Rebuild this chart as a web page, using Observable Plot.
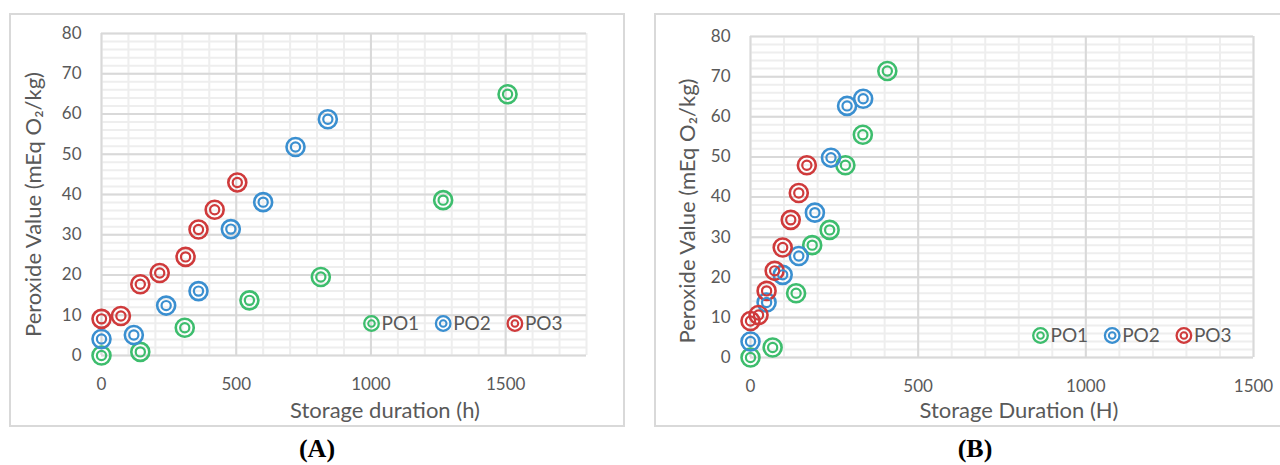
<!DOCTYPE html>
<html>
<head>
<meta charset="utf-8">
<script src="https://cdn.jsdelivr.net/npm/d3@7"></script>
<script src="https://cdn.jsdelivr.net/npm/@observablehq/plot@0.6"></script>
<style>
  html, body { margin: 0; padding: 0; background: #fff; overflow: hidden; }
  #page { position: relative; width: 1280px; height: 465px; overflow: hidden; }
  .box { position: absolute; border: 2px solid #d9d9d9; box-sizing: border-box; }
  .panel { position: absolute; top: 0; }
  .tag { position: absolute; font-family: "Liberation Serif", "DejaVu Serif", serif; font-weight: bold;
         font-size: 26px; line-height: 24px; color: #000; transform: translateX(-50%); top: 437px; }
</style>
</head>
<body>
<div id="page">
  <div class="box" style="left:9px; top:13px; width:616px; height:414px;"></div>
  <div class="box" style="left:654px; top:13px; width:660px; height:414px;"></div>
  <div id="panelA" class="panel" style="left:0px;"></div>
  <div id="panelB" class="panel" style="left:640px;"></div>
  <div class="tag" style="left:317px;">(A)</div>
  <div class="tag" style="left:975px;">(B)</div>
</div>
<script>
// Series names and colours
const seriesNames = ["PO1", "PO2", "PO3"];
const seriesColors = ["#3dbd6d", "#3a8fd0", "#cf3a3b"];

// Panel A: storage duration (h) vs peroxide value
const aHoursPO1 = [0, 144, 309, 549, 814, 1268, 1507];
const aPvPO1    = [0, 0.9, 6.9, 13.7, 19.5, 38.6, 64.9];
const aHoursPO2 = [0, 120, 240, 360, 480, 600, 720, 840];
const aPvPO2    = [4.1, 5.1, 12.4, 16.0, 31.4, 38.1, 51.8, 58.7];
const aHoursPO3 = [0, 72, 144, 216, 312, 360, 420, 504];
const aPvPO3    = [9.1, 9.8, 17.7, 20.5, 24.5, 31.3, 36.2, 43.0];

// Panel B: storage duration (H) vs peroxide value
const bHoursPO1 = [0, 66, 136, 184, 236, 283, 335, 408];
const bPvPO1    = [0, 2.5, 16.0, 28.0, 31.8, 47.9, 55.5, 71.4];
const bHoursPO2 = [0, 48, 96, 144, 192, 240, 288, 336];
const bPvPO2    = [4.0, 13.7, 20.6, 25.3, 36.1, 49.8, 62.7, 64.5];
const bHoursPO3 = [0, 24, 48, 72, 96, 120, 144, 168];
const bPvPO3    = [9.1, 10.6, 16.6, 21.6, 27.4, 34.3, 41.0, 47.9];

// Axis ticks and titles
const xTicks = [0, 500, 1000, 1500];
const yTicks = [0, 10, 20, 30, 40, 50, 60, 70, 80];
const yTitle = "Peroxide Value (mEq O\u2082/kg)";
const xTitleA = "Storage duration (h)";
const xTitleB = "Storage Duration (H)";

function rows(hoursList, pvList) {
  return seriesNames.flatMap((name, i) =>
    hoursList[i].map((h, j) => ({series: name, hours: h, pv: pvList[i][j]})));
}

const dataA = rows([aHoursPO1, aHoursPO2, aHoursPO3], [aPvPO1, aPvPO2, aPvPO3]);
const dataB = rows([bHoursPO1, bHoursPO2, bHoursPO3], [bPvPO1, bPvPO2, bPvPO3]);

const FONT = "Lato, 'Open Sans', sans-serif";
const TEXT = "#595959";
const plain = d => String(d);

function panel({data, xMax, margins, xTitle, xTitleDx, xTitleDy, yTitleDx, yTitleDy, legendDx, legendDy}) {
  const minorX = d3.range(0, xMax + 1, 100);
  const majorX = d3.range(0, xMax + 1, 500);
  const minorY = d3.range(0, 81, 2);
  // Legend drawn inside the plot frame: double ring + series name
  const legendMarks = seriesNames.flatMap((name, i) => [
    Plot.dot([name], {frameAnchor: "bottom-left", dx: legendDx + i * 71.7, dy: legendDy,
      r: 7.3, stroke: seriesColors[i], strokeWidth: 2.3, fill: "none"}),
    Plot.dot([name], {frameAnchor: "bottom-left", dx: legendDx + i * 71.7, dy: legendDy,
      r: 3.3, stroke: seriesColors[i], strokeWidth: 2, fill: "none"}),
    Plot.text([name], {frameAnchor: "bottom-left", dx: legendDx + i * 71.7 + 10, dy: legendDy,
      text: d => d, textAnchor: "start", lineAnchor: "middle", fill: TEXT, fontSize: 19})
  ]);
  return Plot.plot({
    width: 640,
    height: 440,
    ...margins,
    style: {fontFamily: FONT, background: "transparent"},
    x: {domain: [0, xMax], ticks: xTicks, tickSize: 0, tickPadding: 22, label: null, tickFormat: plain},
    y: {domain: [0, 80], ticks: yTicks, tickSize: 0, tickPadding: 20, label: null, tickFormat: plain},
    color: {domain: seriesNames, range: seriesColors},
    marks: [
      Plot.ruleX(minorX, {stroke: "#eeeeee", strokeWidth: 2}),
      Plot.ruleY(minorY, {stroke: "#eeeeee", strokeWidth: 2}),
      Plot.ruleX(majorX, {stroke: "#d9d9d9", strokeWidth: 2}),
      Plot.ruleY(yTicks, {stroke: "#d9d9d9", strokeWidth: 2}),
      Plot.axisX({ticks: xTicks, tickSize: 0, tickPadding: 22, fontSize: 17, color: TEXT, label: null, tickFormat: plain}),
      Plot.axisY({ticks: yTicks, tickSize: 0, tickPadding: 20, fontSize: 17, color: TEXT, label: null, tickFormat: plain}),
      Plot.dot(data, {x: "hours", y: "pv", stroke: "series", r: 9, strokeWidth: 2.6, fill: "none"}),
      Plot.dot(data, {x: "hours", y: "pv", stroke: "series", r: 4.6, strokeWidth: 2.2, fill: "none"}),
      Plot.text([xTitle], {frameAnchor: "bottom", dx: xTitleDx, dy: xTitleDy, text: d => d,
        textAnchor: "middle", lineAnchor: "middle", fill: TEXT, fontSize: 22, letterSpacing: 0.6}),
      Plot.text([yTitle], {frameAnchor: "left", dx: yTitleDx, dy: yTitleDy, rotate: -90, text: d => d,
        textAnchor: "middle", lineAnchor: "middle", fill: TEXT, fontSize: 22, letterSpacing: 0.6}),
      ...legendMarks
    ]
  });
}

const chartA = panel({
  data: dataA, xMax: 1800,
  margins: {marginLeft: 101, marginTop: 33, marginRight: 54, marginBottom: 85},
  xTitle: xTitleA, xTitleDx: 41, xTitleDy: 55, yTitleDx: -68, yTitleDy: 10,
  legendDx: 270, legendDy: -32
});
const chartB = panel({
  data: dataB, xMax: 1500,
  margins: {marginLeft: 110, marginTop: 36, marginRight: 27, marginBottom: 83},
  xTitle: xTitleB, xTitleDx: 17, xTitleDy: 53, yTitleDx: -63, yTitleDy: 14,
  legendDx: 290, legendDy: -22
});
document.getElementById("panelA").appendChild(chartA);
document.getElementById("panelB").appendChild(chartB);
</script>
</body>
</html>
